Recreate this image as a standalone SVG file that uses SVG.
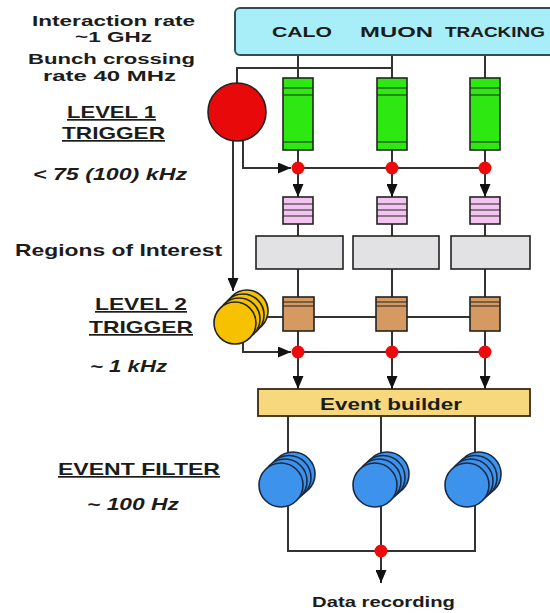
<svg xmlns="http://www.w3.org/2000/svg" width="550" height="613" viewBox="0 0 550 613">
<style>
  .t{font-family:"Liberation Sans",Arial,sans-serif;font-weight:bold;fill:#1c1c1c;text-anchor:middle}
  .it{font-style:italic}
  .ul{text-decoration:underline}
  .ln{fill:none;stroke:#333;stroke-width:2}
  .box{stroke:#222;stroke-width:1.6}
  .green{fill:#2ee812}
  .pink{fill:#f4c4f0}
  .gray{fill:#e2e2e4}
  .brown{fill:#d49a62}
  .stripe{stroke:#222;stroke-width:1.2}
  .dot{fill:#ee0a0a}
  .yel{fill:#f6c200;stroke:#222;stroke-width:1.6}
  .blue{fill:#3d93ec;stroke:#1a2a44;stroke-width:1.6}
</style>
<defs>
  <marker id="ah" viewBox="0 0 13 11" refX="13" refY="5.5" markerWidth="13" markerHeight="11" markerUnits="userSpaceOnUse" orient="auto">
    <path d="M0,0 L13,5.5 L0,11 z" fill="#111"/>
  </marker>
  <g id="bstack">
    <circle cx="12" cy="-11" r="22" class="blue"/>
    <circle cx="8" cy="-7.5" r="22" class="blue"/>
    <circle cx="4" cy="-4" r="22" class="blue"/>
    <circle cx="0" cy="0" r="22" class="blue"/>
  </g>
</defs>

<!-- connectors -->
<g id="connectors">
  <path class="ln" d="M298 55 V78 M392 55 V78 M485 55 V78"/>
  <path class="ln" d="M237 84 V68 H392"/>
  <path class="ln" d="M233 140 V291" marker-end="url(#ah)"/>
  <path class="ln" d="M243 140 V168 H291" marker-end="url(#ah)"/>
  <path class="ln" d="M298 168 H485"/>
  <path class="ln" d="M298 150 V168 M392 150 V168 M485 150 V168"/>
  <path class="ln" d="M298 174 V197" marker-end="url(#ah)"/>
  <path class="ln" d="M392 174 V197" marker-end="url(#ah)"/>
  <path class="ln" d="M485 174 V197" marker-end="url(#ah)"/>
  <path class="ln" d="M298 224 V298 M392 224 V298 M485 224 V298"/>
  <path class="ln" d="M258 317 H485"/>
  <path class="ln" d="M243 338 V352 H291" marker-end="url(#ah)"/>
  <path class="ln" d="M298 352 H485"/>
  <path class="ln" d="M298 330 V352 M392 330 V352 M485 330 V352"/>
  <path class="ln" d="M298 358 V389" marker-end="url(#ah)"/>
  <path class="ln" d="M392 358 V389" marker-end="url(#ah)"/>
  <path class="ln" d="M485 358 V389" marker-end="url(#ah)"/>
  <path class="ln" d="M288 416 V551 H475 V416 M381 416 V551"/>
  <path class="ln" d="M381 556 V583" marker-end="url(#ah)"/>
</g>

<g id="detectors">
  <rect x="235" y="8" width="330" height="47" rx="5" fill="#a8eef8" stroke="#2d4f55" stroke-width="2"/>
  <text class="t" x="302" y="37" font-size="15" textLength="60" lengthAdjust="spacingAndGlyphs">CALO</text>
  <text class="t" x="396.5" y="37" font-size="15" textLength="73" lengthAdjust="spacingAndGlyphs">MUON</text>
  <text class="t" x="495" y="37" font-size="15" textLength="100" lengthAdjust="spacingAndGlyphs">TRACKING</text>
</g>

<g id="l1trigger">
  <circle cx="237" cy="112" r="29" fill="#e80a0a" stroke="#222" stroke-width="1.6"/>
</g>

<g id="pipelines">
  <rect class="box green" x="283" y="78" width="30" height="72"/>
  <path class="stripe" d="M283 88 H313 M283 95 H313 M283 142 H313"/>
  <rect class="box green" x="377" y="78" width="30" height="72"/>
  <path class="stripe" d="M377 88 H407 M377 95 H407 M377 142 H407"/>
  <rect class="box green" x="470" y="78" width="30" height="72"/>
  <path class="stripe" d="M470 88 H500 M470 95 H500 M470 142 H500"/>
</g>

<g id="l1dots">
  <circle class="dot" cx="298" cy="168" r="6.5"/>
  <circle class="dot" cx="392" cy="168" r="6.5"/>
  <circle class="dot" cx="485" cy="168" r="6.5"/>
</g>

<g id="buffers">
  <rect class="box pink" x="283" y="197" width="30" height="27"/>
  <path class="stripe" d="M283 204 H313 M283 210 H313 M283 216 H313"/>
  <rect class="box pink" x="377" y="197" width="30" height="27"/>
  <path class="stripe" d="M377 204 H407 M377 210 H407 M377 216 H407"/>
  <rect class="box pink" x="470" y="197" width="30" height="27"/>
  <path class="stripe" d="M470 204 H500 M470 210 H500 M470 216 H500"/>
</g>

<g id="roi">
  <rect class="box gray" x="256" y="236" width="87" height="33"/>
  <rect class="box gray" x="353" y="236" width="86" height="33"/>
  <rect class="box gray" x="451" y="236" width="79" height="33"/>
</g>

<g id="l2trigger">
  <circle cx="247" cy="311" r="21" class="yel"/>
  <circle cx="243" cy="315" r="21" class="yel"/>
  <circle cx="239" cy="319" r="21" class="yel"/>
  <circle cx="235" cy="323" r="21" class="yel"/>
</g>

<g id="l2proc">
  <rect class="box brown" x="283" y="297" width="31" height="34"/>
  <path class="stripe" d="M283 302 H314 M283 306 H314"/>
  <rect class="box brown" x="376" y="297" width="31" height="34"/>
  <path class="stripe" d="M376 302 H407 M376 306 H407"/>
  <rect class="box brown" x="470" y="297" width="30" height="34"/>
  <path class="stripe" d="M470 302 H500 M470 306 H500"/>
</g>

<g id="l2dots">
  <circle class="dot" cx="298" cy="352" r="6.5"/>
  <circle class="dot" cx="392" cy="352" r="6.5"/>
  <circle class="dot" cx="485" cy="352" r="6.5"/>
</g>

<g id="eventbuilder">
  <rect x="258" y="389" width="272" height="27" fill="#f8d87c" stroke="#3a2a10" stroke-width="1.8"/>
  <text class="t" x="391" y="410" font-size="17" textLength="142" lengthAdjust="spacingAndGlyphs">Event builder</text>
</g>

<g id="eventfilter">
  <use href="#bstack" x="281" y="485"/>
  <use href="#bstack" x="375" y="485"/>
  <use href="#bstack" x="467" y="485"/>
</g>

<g id="outdot">
  <circle class="dot" cx="381" cy="551" r="6.5"/>
</g>

<g id="datarecording">
  <text class="t" x="383.5" y="607" font-size="15" textLength="143" lengthAdjust="spacingAndGlyphs">Data recording</text>
</g>

<g id="labels">
  <text class="t" x="113.5" y="26" font-size="14" textLength="163" lengthAdjust="spacingAndGlyphs">Interaction rate</text>
  <text class="t" x="113.5" y="42" font-size="14" textLength="77" lengthAdjust="spacingAndGlyphs">~1 GHz</text>
  <text class="t" x="111.5" y="64" font-size="14" textLength="167" lengthAdjust="spacingAndGlyphs">Bunch crossing</text>
  <text class="t" x="109.5" y="81" font-size="14" textLength="133" lengthAdjust="spacingAndGlyphs">rate 40 MHz</text>
  <text class="t ul" x="111.5" y="118" font-size="17" textLength="89" lengthAdjust="spacingAndGlyphs">LEVEL 1</text>
  <text class="t ul" x="113.5" y="139" font-size="17" textLength="103" lengthAdjust="spacingAndGlyphs">TRIGGER</text>
  <text class="t it" x="110" y="180" font-size="16" textLength="154" lengthAdjust="spacingAndGlyphs">&lt; 75 (100) kHz</text>
  <text class="t" x="118.5" y="256" font-size="17" textLength="207" lengthAdjust="spacingAndGlyphs">Regions of Interest</text>
  <text class="t ul" x="141" y="310" font-size="17" textLength="92" lengthAdjust="spacingAndGlyphs">LEVEL 2</text>
  <text class="t ul" x="141" y="333" font-size="17" textLength="104" lengthAdjust="spacingAndGlyphs">TRIGGER</text>
  <text class="t it" x="128.5" y="372" font-size="16" textLength="77" lengthAdjust="spacingAndGlyphs">~ 1 kHz</text>
  <text class="t ul" x="139" y="475" font-size="17" textLength="162" lengthAdjust="spacingAndGlyphs">EVENT FILTER</text>
  <text class="t it" x="133" y="510" font-size="16" textLength="92" lengthAdjust="spacingAndGlyphs">~ 100 Hz</text>
</g>
</svg>
